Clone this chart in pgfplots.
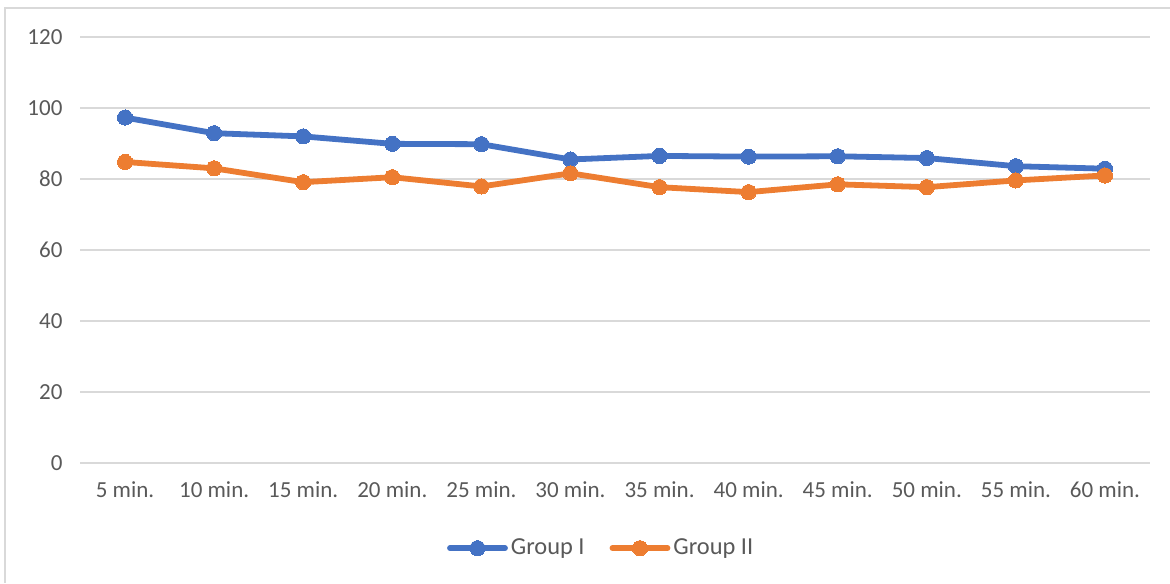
\documentclass[border=0pt]{standalone}
\usepackage{pgfplots}
\pgfplotsset{compat=1.18}
\usepackage{fontspec}
\setmainfont{Carlito}
\definecolor{seriesA}{RGB}{68,114,196}
\definecolor{seriesB}{RGB}{237,125,49}
\definecolor{gridgray}{RGB}{217,217,217}
\definecolor{labelgray}{RGB}{89,89,89}
\begin{document}
\begin{tikzpicture}
\useasboundingbox (0pt,0pt) rectangle (585pt,291.5pt);
% chart area frame (top and left edges)
\draw[gridgray,line width=1pt] (2.25pt,0pt) -- (2.25pt,287.5pt) -- (585pt,287.5pt);
\begin{axis}[
  at={(40.25pt,60pt)}, anchor=south west,
  scale only axis,
  width=534.5pt, height=213pt,
  xmin=-0.5, xmax=11.5,
  ymin=0, ymax=120,
  ytick={0,20,...,120},
  xtick={0,...,11},
  xticklabels={5 min.,10 min.,15 min.,20 min.,25 min.,30 min.,35 min.,40 min.,45 min.,50 min.,55 min.,60 min.},
  axis line style={draw=none},
  tick style={draw=none},
  ymajorgrids,
  grid style={gridgray,line width=1pt},
  font=\fontsize{11.5}{14}\selectfont,
  tick label style={text=labelgray},
  /pgf/number format/assume math mode=true,
  yticklabel style={xshift=-5.5pt},
  xticklabel style={yshift=-6pt},
  legend columns=2,
  legend style={at={(0.4875,-0.2)},anchor=center,draw=none,
    font=\fontsize{12.2}{14}\selectfont,text=labelgray,
    nodes={inner xsep=1.5pt},
    /tikz/every even column/.append style={column sep=11pt}},
  legend cell align=left,
  legend image code/.code={\draw[#1,mark repeat=2,mark phase=2] plot coordinates {(0pt,0pt)(13.75pt,0pt)(27.5pt,0pt)};},
  every axis plot/.append style={line width=2.9pt,line cap=round,line join=round,mark=*,mark size=3.8pt},
]
\addplot[color=seriesA,mark options={fill=seriesA,draw=seriesA,line width=0pt}] coordinates {
(0,97.3) (1,92.9) (2,92.0) (3,89.9) (4,89.8) (5,85.5)
(6,86.5) (7,86.3) (8,86.4) (9,85.9) (10,83.6) (11,82.9)};
\addlegendentry{Group I}
\addplot[color=seriesB,mark options={fill=seriesB,draw=seriesB,line width=0pt}] coordinates {
(0,84.8) (1,83.0) (2,79.1) (3,80.5) (4,77.9) (5,81.6)
(6,77.7) (7,76.3) (8,78.5) (9,77.7) (10,79.6) (11,81.0)};
\addlegendentry{Group II}
\end{axis}
\end{tikzpicture}
\end{document}
